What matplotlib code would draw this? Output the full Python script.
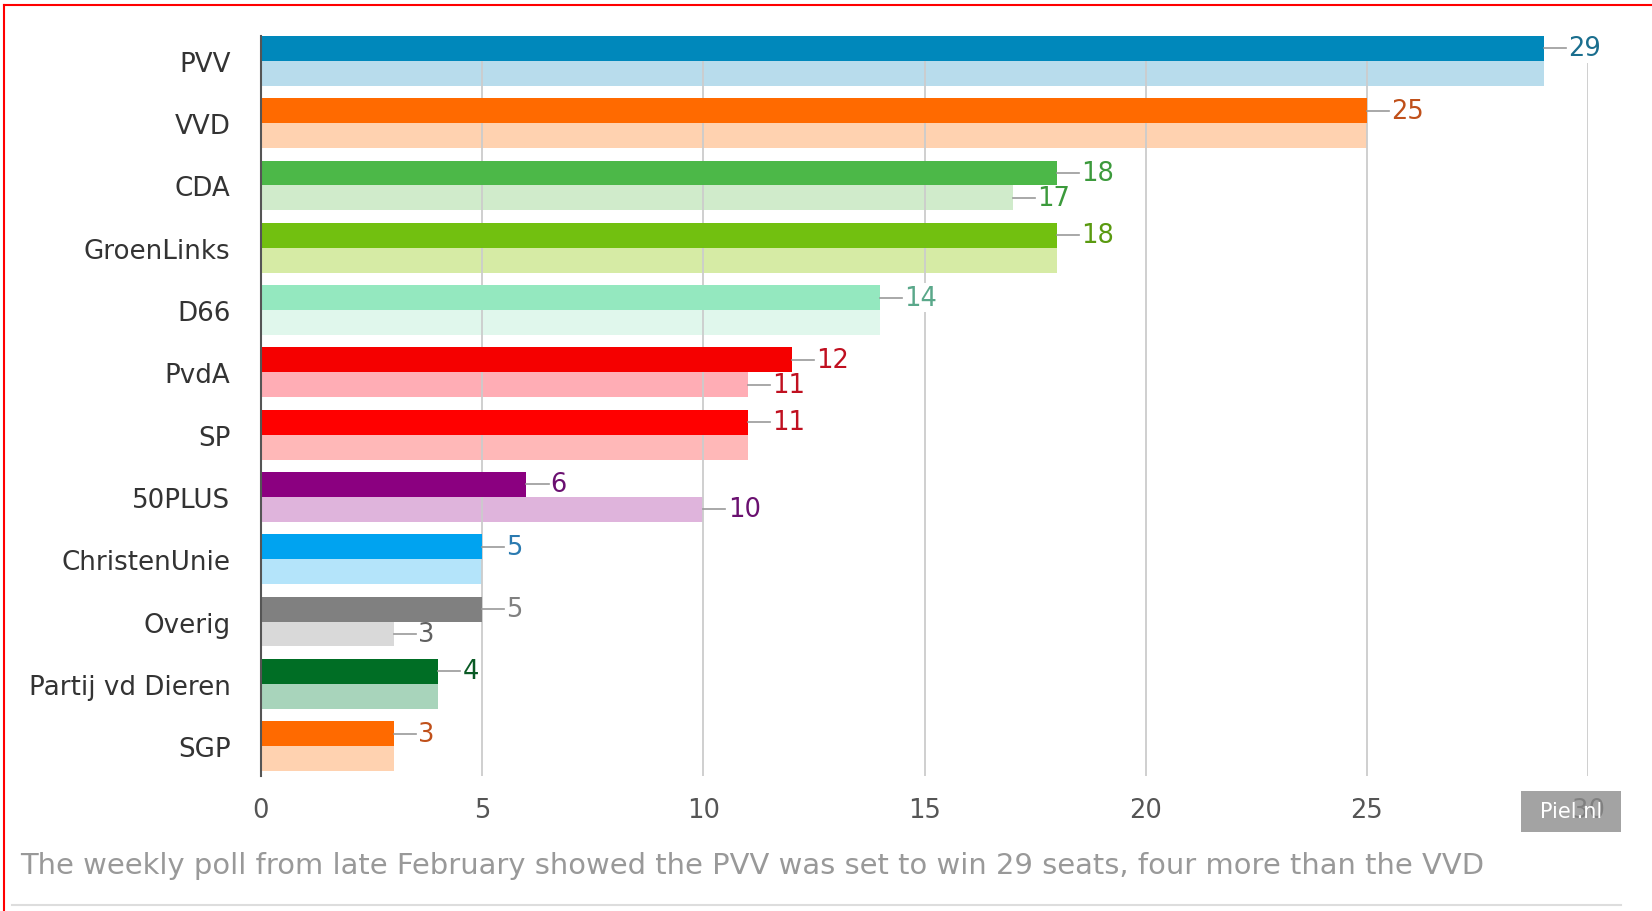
import numpy as np
import matplotlib
matplotlib.use("Agg")
import matplotlib.pyplot as plt
from matplotlib.lines import Line2D
from matplotlib.patches import Rectangle

# poll data: top bar = this week, bottom bar = previous
parties = ["PVV", "VVD", "CDA", "GroenLinks", "D66", "PvdA", "SP", "50PLUS",
           "ChristenUnie", "Overig", "Partij vd Dieren", "SGP"]
seats_now = [29, 25, 18, 18, 14, 12, 11, 6, 5, 5, 4, 3]
seats_prev = [29, 25, 17, 18, 14, 11, 11, 10, 5, 3, 4, 3]

dark_colors = ["#0088bb", "#ff6a00", "#4cb848", "#72c010", "#94e8bf", "#f50000",
               "#ff0000", "#8b0080", "#00a3f0", "#808080", "#006e25", "#ff6a00"]
light_colors = ["#b8dcec", "#ffd2b0", "#d0ebcb", "#d6eba5", "#e0f7ec", "#ffadb5",
                "#ffb8b8", "#dfb4dc", "#b4e4fa", "#d9d9d9", "#a8d4bb", "#ffd2b0"]
label_colors = ["#1a6e8e", "#c0501a", "#3c9a3c", "#5a9a10", "#5aa88a", "#c01020",
                "#c01020", "#6a1070", "#2a7ab0", "#808080", "#0a5a25", "#c0501a"]
label_colors_prev = ["#1a6e8e", "#c0501a", "#3c9a3c", "#5a9a10", "#5aa88a", "#c01020",
                     "#c01020", "#6a1070", "#2a7ab0", "#606060", "#0a5a25", "#c0501a"]

caption = ("The weekly poll from late February showed the PVV was set to win 29 seats, "
           "four more than the VVD")

plt.rcParams['font.family'] = ['DejaVu Sans']

fig = plt.figure(figsize=(16.52, 9.12), dpi=100)
ax = fig.add_axes([261 / 1652, 1 - 777 / 912, (1588 - 261) / 1652, 740 / 912])

y = np.arange(len(parties))
h = 0.4
ax.barh(y - 0.2, seats_now, height=h, color=dark_colors, zorder=3)
ax.barh(y + 0.2, seats_prev, height=h, color=light_colors, zorder=1)

def value_label(v, yy, col):
    ax.plot([v, v + 0.5], [yy, yy], color="#999999", lw=1.2, zorder=4)
    # white backing only where the label sits on a grid line
    hits_grid = any(v + 0.5 < k <= v + 1.5 for k in range(5, 31, 5))
    bbox = dict(boxstyle="square,pad=0.05", fc="white", ec="none") if hits_grid else None
    ax.text(v + 0.55, yy, str(v), color=col, fontsize=18.5, va="center", ha="left",
            zorder=5, bbox=bbox)

for i in range(len(parties)):
    value_label(seats_now[i], y[i] - 0.2, label_colors[i])
    if seats_prev[i] != seats_now[i]:
        value_label(seats_prev[i], y[i] + 0.2, label_colors_prev[i])

ax.set_xlim(0, 30)
ax.set_ylim(11.48, -0.4)
ax.set_xticks(np.arange(0, 31, 5))
ax.set_yticks(y)
ax.set_yticklabels(parties, fontsize=18.8, color="#333333")
ax.tick_params(axis="y", length=0, pad=22)
ax.tick_params(axis="x", length=0, pad=15, labelsize=18.5, labelcolor="#555555")

ax.xaxis.grid(True, color="#cccccc", lw=1.3, zorder=2)
ax.set_axisbelow(False)
for gl in ax.get_xgridlines():
    gl.set_zorder(2)

for s in ["top", "right", "bottom"]:
    ax.spines[s].set_visible(False)
ax.spines["left"].set_color("#555555")
ax.spines["left"].set_linewidth(1.5)
ax.spines["left"].set_zorder(6)

# watermark box over the last tick label (the 30 shows through)
fig.add_artist(Rectangle((1521 / 1652, 1 - 833 / 912), 100 / 1652, 41 / 912,
                         transform=fig.transFigure, fc="#8c8c8c", ec="none",
                         alpha=0.8, zorder=10))
fig.text(1571 / 1652, 1 - 812 / 912, "Piel.nl", color="white", fontsize=15,
         ha="center", va="center", zorder=11)

fig.text(20 / 1652, 1 - 866 / 912, caption, color="#999999", fontsize=20.9,
         ha="left", va="center")

# frame lines
fig.add_artist(Line2D([12 / 1652, 1621 / 1652], [1 - 906 / 912, 1 - 906 / 912],
                      transform=fig.transFigure, color="#dddddd", lw=1.5))
fig.add_artist(Line2D([4 / 1652, 4 / 1652], [0, 1 - 6 / 912],
                      transform=fig.transFigure, color="#ff0000", lw=1.5))
fig.add_artist(Line2D([4 / 1652, 1], [1 - 6 / 912, 1 - 6 / 912],
                      transform=fig.transFigure, color="#ff0000", lw=1.5))

fig.savefig("out.png", dpi=100)
